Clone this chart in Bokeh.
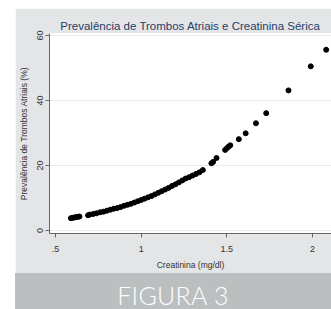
from bokeh.plotting import figure
from bokeh.models import Range1d, FixedTicker, Div, Spacer
from bokeh.layouts import column, row
from bokeh.embed import file_html
from bokeh.resources import INLINE

# ---- data ----
creatinina = [0.59, 0.60, 0.61, 0.62, 0.63, 0.64,
              0.69, 0.70, 0.72, 0.74, 0.76, 0.78, 0.80, 0.82, 0.84, 0.86,
              0.88, 0.90, 0.92, 0.94, 0.96, 0.98, 1.00, 1.02, 1.04, 1.06,
              1.08, 1.10, 1.12, 1.14, 1.16, 1.18, 1.20, 1.22, 1.24, 1.26,
              1.28, 1.30, 1.32, 1.34, 1.36,
              1.41, 1.42, 1.44, 1.49, 1.50, 1.51, 1.52, 1.57, 1.61, 1.67,
              1.73, 1.86, 1.99, 2.08]
prevalencia = [3.8, 3.9, 4.0, 4.1, 4.2, 4.3,
               4.7, 4.9, 5.1, 5.3, 5.6, 5.8, 6.1, 6.4, 6.7, 6.9,
               7.2, 7.6, 7.9, 8.2, 8.6, 9.0, 9.4, 9.8, 10.2, 10.6,
               11.1, 11.6, 12.1, 12.6, 13.1, 13.7, 14.2, 14.8, 15.4, 16.0,
               16.4, 16.9, 17.4, 17.9, 18.6,
               20.7, 21.1, 22.3, 24.8, 25.3, 25.8, 26.2, 28.1, 29.9, 33.0,
               36.1, 43.1, 50.5, 55.6]
x_ticks = [0.5, 1, 1.5, 2]
x_tick_labels = [".5", "1", "1.5", "2"]
y_ticks = [0, 20, 40, 60]

titulo = "Prevalência de Trombos Atriais e Creatinina Sérica"
x_titulo = "Creatinina (mg/dl)"
y_titulo = "Prevalência de Trombos Atriais (%)"
rodape = "FIGURA 3"

FONT = "Liberation Sans"
GRAY_BG = "#e4e5e6"

p = figure(width=316, height=265,
           x_range=Range1d(0.465, 2.111), y_range=Range1d(-0.92, 60.6),
           output_backend="svg", toolbar_location=None, title=titulo)
p.min_border_left = 34
p.min_border_right = 0
p.min_border_top = 25
p.min_border_bottom = 40
p.border_fill_color = GRAY_BG
p.background_fill_color = "white"
p.outline_line_color = None

p.title.text_font = FONT
p.title.text_font_size = "11.5px"
p.title.text_font_style = "normal"
p.title.text_color = "#24406b"
p.title.align = "center"
p.title.standoff = 4

p.xgrid.visible = False
p.ygrid.grid_line_color = "#e6ebee"
p.ygrid.ticker = FixedTicker(ticks=y_ticks)

p.scatter(creatinina, prevalencia, size=5, color="black")

xa = p.xaxis[0]
xa.ticker = FixedTicker(ticks=x_ticks)
xa.major_label_overrides = {t: l for t, l in zip(x_ticks, x_tick_labels)}
xa.axis_label = x_titulo
ya = p.yaxis[0]
ya.ticker = FixedTicker(ticks=y_ticks)
ya.axis_label = y_titulo
ya.major_label_orientation = "vertical"

for ax in (xa, ya):
    ax.axis_line_color = "#666666"
    ax.major_tick_line_color = "#666666"
    ax.minor_tick_line_color = None
    ax.major_tick_out = 4
    ax.major_tick_in = 0
    ax.major_label_text_font = FONT
    ax.major_label_text_font_size = "9px"
    ax.major_label_text_color = "#333333"
    ax.axis_label_text_font = FONT
    ax.axis_label_text_font_size = "8.5px"
    ax.axis_label_text_font_style = "normal"
    ax.axis_label_text_color = "#333333"

xa.major_label_standoff = 8
xa.axis_label_standoff = 5
ya.major_label_standoff = 2
ya.axis_label_standoff = 6

banner = Div(text=('<div style="color:white;font-family:Lato;font-size:25px;'
                   'font-weight:300;line-height:25px;text-align:center;'
                   'padding-top:10px;padding-left:9px;width:307px;'
                   'letter-spacing:0.3px;">' + rodape + '</div>'),
             width=316, height=36, margin=0,
             styles={"background-color": "#bcbfc0", "overflow": "hidden"})

layout = column(Spacer(width=331, height=8),
                row(Spacer(width=15, height=265), p),
                row(Spacer(width=15, height=36), banner))

open("out.html", "w").write(file_html(layout, INLINE))
